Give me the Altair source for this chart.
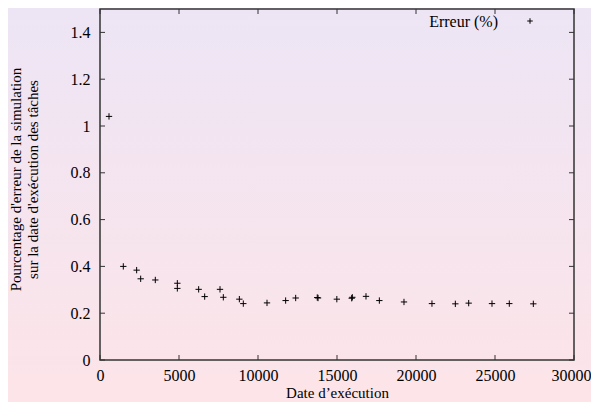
import altair as alt
import pandas as pd

# Data
dates = [570, 1475, 2320, 2575, 3500, 4895, 4895, 6245, 6625, 7595, 7805, 8820, 9070,
         10570, 11750, 12385, 13750, 13800, 14990, 15930, 15970, 16835, 17680, 19240,
         21010, 22490, 23335, 24810, 25905, 27425]
errors = [1.041, 0.400, 0.384, 0.347, 0.342, 0.328, 0.306, 0.302, 0.271, 0.302, 0.268,
          0.260, 0.241, 0.244, 0.254, 0.265, 0.267, 0.265, 0.260, 0.264, 0.268, 0.272,
          0.254, 0.248, 0.241, 0.240, 0.243, 0.241, 0.241, 0.240]
x_ticks = [0, 5000, 10000, 15000, 20000, 25000, 30000]
y_ticks = [0, 0.2, 0.4, 0.6, 0.8, 1.0, 1.2, 1.4]
legend_label = ["Erreur (%)"]

W, H = 474, 351
PL, PT, PR, PB = 92, 1, 17, 42
FONT = "Liberation Serif"
FS = 16

df = pd.DataFrame({"x": dates, "y": errors})
xt = pd.DataFrame({"x": x_ticks})
yt = pd.DataFrame({"y": y_ticks})
one = pd.DataFrame({"t": legend_label})

xscale = alt.Scale(domain=[0, 30000], nice=False, zero=False)
yscale = alt.Scale(domain=[0, 1.5], nice=False, zero=False)

grad = alt.LinearGradient(
    gradient="linear", x1=0, x2=0, y1=0, y2=1,
    stops=[alt.GradientStop(offset=0, color="#ede5f5"),
           alt.GradientStop(offset=1, color="#fde4e8")],
)

bg = alt.Chart(one).mark_rect(fill=grad).encode(
    x=alt.value(-PL), x2=alt.value(W + PR), y=alt.value(-PT), y2=alt.value(H + PB)
)

plus = "M-1,0L1,0M0,-1L0,1"

points = alt.Chart(df).mark_point(shape=plus, filled=False, stroke="black",
                                  strokeWidth=1, size=40, opacity=1).encode(
    x=alt.X("x:Q", scale=xscale,
            axis=alt.Axis(title="Date d’exécution", values=x_ticks, format="d",
                          domain=False, ticks=False, grid=False, labelFont=FONT,
                          labelFontSize=FS, labelColor="black", labelPadding=7,
                          labelOffset={"condition": {"test": "datum.value === 30000",
                                                     "value": -3},
                                       "value": 0},
                          titleFont=FONT, titleFontSize=15, titleFontWeight="normal",
                          titleColor="black", titlePadding=2, labelFlush=False,
                          zindex=2)),
    y=alt.Y("y:Q", scale=yscale,
            axis=alt.Axis(title=["Pourcentage d'erreur de la simulation",
                                 "sur la date d'exécution des tâches"],
                          values=y_ticks, format="~g", domain=False, ticks=False,
                          grid=False, labelFont=FONT, labelFontSize=FS,
                          labelColor="black", labelPadding=10, labelFlush=False,
                          titleFont=FONT, titleFontSize=15, titleFontWeight="normal",
                          titleColor="black", titleX=-77, titleY=170,
                          titleAngle=270, titleAlign="center",
                          titleBaseline="bottom", zindex=2)),
)

tick_len = 5
xt_bottom = alt.Chart(xt).mark_rule(color="#333333", strokeWidth=1).encode(
    x=alt.X("x:Q", scale=xscale), y=alt.value(H), y2=alt.value(H - tick_len))
xt_top = alt.Chart(xt).mark_rule(color="#333333", strokeWidth=1).encode(
    x=alt.X("x:Q", scale=xscale), y=alt.value(0), y2=alt.value(tick_len))
yt_left = alt.Chart(yt).mark_rule(color="#333333", strokeWidth=1).encode(
    y=alt.Y("y:Q", scale=yscale), x=alt.value(0), x2=alt.value(tick_len))
yt_right = alt.Chart(yt).mark_rule(color="#333333", strokeWidth=1).encode(
    y=alt.Y("y:Q", scale=yscale), x=alt.value(W), x2=alt.value(W - tick_len))

frame = alt.Chart(one).mark_rect(fillOpacity=0, stroke="#333333", strokeWidth=1.5).encode(
    x=alt.value(0), x2=alt.value(W), y=alt.value(0), y2=alt.value(H))

leg_text = alt.Chart(one).mark_text(align="right", baseline="middle", font=FONT,
                                    fontSize=FS, color="black").encode(
    text="t:N", x=alt.value(398), y=alt.value(13))
leg_pt = alt.Chart(one).mark_point(shape=plus, filled=False, stroke="black",
                                   strokeWidth=1, size=30, opacity=1).encode(
    x=alt.value(430), y=alt.value(12))

chart = alt.layer(bg, points, xt_bottom, xt_top, yt_left, yt_right, frame,
                  leg_text, leg_pt).properties(
    width=W, height=H,
    autosize=alt.AutoSizeParams(type="none"),
    padding={"left": PL, "top": PT, "right": PR, "bottom": PB},
    background="#f3e5ee",
).configure_view(strokeWidth=0)

chart.save("out.html", embed_options={"renderer": "svg", "actions": False})
